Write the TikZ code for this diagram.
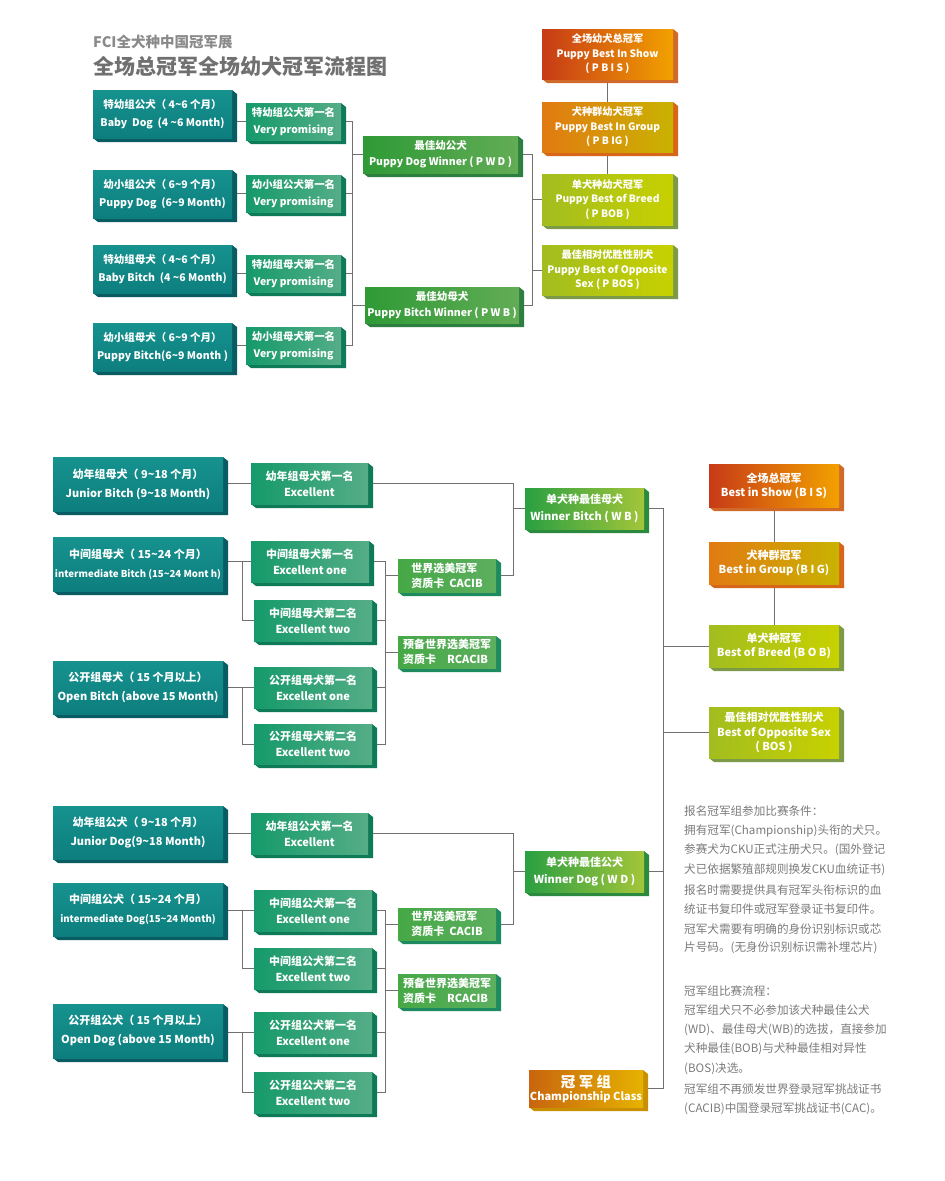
\documentclass[tikz,border=0pt]{standalone}
\usepackage{fontspec}
\setmainfont{Noto Sans CJK SC}
\usetikzlibrary{backgrounds,calc}
\definecolor{tealA}{HTML}{16928F}
\definecolor{tealB}{HTML}{0D7E7E}
\definecolor{tealS}{HTML}{0A5C63}
\definecolor{firstA}{HTML}{159A6B}
\definecolor{firstB}{HTML}{55AD86}
\definecolor{firstS}{HTML}{0F7A58}
\definecolor{winA}{HTML}{2F9A36}
\definecolor{winB}{HTML}{62AC55}
\definecolor{winS}{HTML}{2C7F3E}
\definecolor{wbA}{HTML}{2A9F42}
\definecolor{wbB}{HTML}{A3C53A}
\definecolor{wbS}{HTML}{2B8A3E}
\definecolor{cacA}{HTML}{46A846}
\definecolor{cacB}{HTML}{5CAF5E}
\definecolor{cacS}{HTML}{1E8A5F}
\definecolor{redA}{HTML}{C73A17}
\definecolor{redB}{HTML}{F2A100}
\definecolor{redS}{HTML}{D06A2A}
\definecolor{orgA}{HTML}{E27A12}
\definecolor{orgB}{HTML}{C9B300}
\definecolor{orgS}{HTML}{D8661A}
\definecolor{limA}{HTML}{A2BD1F}
\definecolor{limB}{HTML}{C8D100}
\definecolor{limS}{HTML}{7C9A48}
\definecolor{chA}{HTML}{C8650E}
\definecolor{chB}{HTML}{E6B200}
\definecolor{chS}{HTML}{C89000}
\definecolor{lineg}{HTML}{707070}
\definecolor{headg}{HTML}{8A8A8A}
\definecolor{titleg}{HTML}{707070}
\definecolor{noteg}{HTML}{7B7B7B}
\newcommand\tld{\textasciitilde}
\newcommand\mybox[7]{%
  \fill[#6side] (#2,#3) -- ++(#4,0) -- ++(5,4) -- ++(0,#5) -- ++(-#4,0) -- ++(-5,-4) -- cycle;
  \node[#6face, anchor=north west, minimum width=#4pt, minimum height=#5pt] (#1) at (#2,#3) {#7};
}
\tikzset{
  base/.style={inner sep=0pt, outer sep=0pt, align=center, text=white},
  tealface/.style={base, top color=tealA, bottom color=tealB, font=\bfseries\fontsize{10.5}{18}\selectfont},
  tealside/.style={fill=tealS},
  mtealface/.style={base, top color=tealA, bottom color=tealB, font=\bfseries\fontsize{11}{19}\selectfont},
  mtealside/.style={fill=tealS},
  firstface/.style={base, left color=firstA, right color=firstB, font=\bfseries\fontsize{10.4}{17}\selectfont},
  firstside/.style={fill=firstS},
  mfirstface/.style={base, left color=firstA, right color=firstB, font=\bfseries\fontsize{11}{16}\selectfont},
  mfirstside/.style={fill=firstS},
  winface/.style={base, left color=winA, right color=winB, font=\bfseries\fontsize{10.5}{16}\selectfont},
  winside/.style={fill=winS},
  wbface/.style={base, left color=wbA, right color=wbB, font=\bfseries\fontsize{11}{17}\selectfont},
  wbside/.style={fill=wbS},
  cacface/.style={base, left color=cacA, right color=cacB, align=left, font=\bfseries\fontsize{11}{15}\selectfont},
  cacside/.style={fill=cacS},
  redface/.style={base, left color=redA, right color=redB, font=\bfseries\fontsize{10.2}{14.5}\selectfont},
  redside/.style={fill=redS},
  orgface/.style={base, left color=orgA, right color=orgB, font=\bfseries\fontsize{10.2}{14.5}\selectfont},
  orgside/.style={fill=orgS},
  limface/.style={base, left color=limA, right color=limB, font=\bfseries\fontsize{10.2}{14.5}\selectfont},
  limside/.style={fill=limS},
  mredface/.style={base, left color=redA, right color=redB, font=\bfseries\fontsize{11}{14}\selectfont},
  mredside/.style={fill=redS},
  morgface/.style={base, left color=orgA, right color=orgB, font=\bfseries\fontsize{11}{14}\selectfont},
  morgside/.style={fill=orgS},
  mlimface/.style={base, left color=limA, right color=limB, font=\bfseries\fontsize{11}{14.5}\selectfont},
  mlimside/.style={fill=limS},
  chface/.style={base, left color=chA, right color=chB, font=\bfseries\fontsize{11}{13}\selectfont},
  chside/.style={fill=chS},
  conn/.style={draw=lineg, line width=1pt},
  note/.style={anchor=west, inner sep=0pt, text=noteg, font=\fontsize{11.6}{12}\selectfont},
}
\begin{document}
\begin{tikzpicture}[x=1pt,y=-1pt]
\useasboundingbox (0,0) rectangle (945,1181);

\node[anchor=west, inner sep=0pt, text=headg, font=\bfseries\fontsize{14.5}{15}\selectfont] (head) at (93,42) {FCI全犬种中国冠军展};
\node[anchor=west, inner sep=0pt, text=titleg, font=\bfseries\fontsize{21}{21}\selectfont] (title) at (93,67) {全场总冠军全场幼犬冠军流程图};

% ---------- top section ----------
\mybox{ba}{93}{90}{139}{48}{teal}{特幼组公犬（ 4\tld6 个月）\\Baby\ \ Dog\ \ (4 \tld6 Month)}
\mybox{bb}{93}{170}{139}{48}{teal}{幼小组公犬（ 6\tld9 个月）\\Puppy Dog\ \ (6\tld9 Month)}
\mybox{bc}{93}{245}{139}{48}{teal}{特幼组母犬（ 4\tld6 个月）\\Baby Bitch\ \ (4 \tld6 Month)}
\mybox{bd}{93}{323}{139}{48}{teal}{幼小组母犬（ 6\tld9 个月）\\Puppy Bitch(6\tld9 Month )}
\mybox{fa}{246}{103}{95}{37}{first}{特幼组公犬第一名\\Very promising}
\mybox{fb}{246}{175}{95}{37}{first}{幼小组公犬第一名\\Very promising}
\mybox{fc}{246}{255}{95}{37}{first}{特幼组母犬第一名\\Very promising}
\mybox{fd}{246}{327}{95}{37}{first}{幼小组母犬第一名\\Very promising}
\mybox{pwd}{363}{136}{155}{37}{win}{最佳幼公犬\\Puppy Dog Winner ( P W D )}
\mybox{pwb}{365}{287}{154}{36}{win}{最佳幼母犬\\Puppy Bitch Winner ( P W B )}
\mybox{pbis}{542}{29}{131}{50}{red}{全场幼犬总冠军\\Puppy Best In Show\\( P B I S )}
\mybox{pbig}{542}{102}{131}{50}{org}{犬种群幼犬冠军\\Puppy Best In Group\\( P B IG )}
\mybox{pbob}{542}{174}{131}{51}{lim}{单犬种幼犬冠军\\Puppy Best of Breed\\( P BOB )}
\mybox{pbos}{542}{245}{131}{50}{lim}{最佳相对优胜性别犬\\Puppy Best of Opposite\\Sex ( P BOS )}

% ---------- middle section ----------
\mybox{jb}{53}{457}{170}{54}{mteal}{幼年组母犬（ 9\tld18 个月）\\Junior Bitch (9\tld18 Month)}
\mybox{ib}{53}{537}{170}{54}{mteal}{中间组母犬（ 15\tld24 个月）\\{\fontsize{9.6}{19}\selectfont intermediate Bitch (15\tld24 Mont h)}}
\mybox{ob}{53}{661}{170}{53}{mteal}{公开组母犬（ 15 个月以上）\\Open Bitch (above 15 Month)}
\mybox{jb1}{251}{463}{117}{41}{mfirst}{幼年组母犬第一名\\Excellent}
\mybox{ib1}{251}{541}{118}{41}{mfirst}{中间组母犬第一名\\Excellent one}
\mybox{ib2}{254}{600}{118}{41}{mfirst}{中间组母犬第二名\\Excellent two}
\mybox{ob1}{254}{667}{118}{41}{mfirst}{公开组母犬第一名\\Excellent one}
\mybox{ob2}{254}{724}{118}{40}{mfirst}{公开组母犬第二名\\Excellent two}
\mybox{cacib}{398}{559}{98}{33}{cac}{世界选美冠军\\资质卡\ \ CACIB}
\mybox{rcacib}{398}{636}{98}{32}{cac}{预备世界选美冠军\\资质卡\quad RCACIB}
\mybox{wb}{525}{488}{119}{41}{wb}{单犬种最佳母犬\\Winner Bitch ( W B )}
\mybox{bis}{709}{464}{130}{43}{mred}{全场总冠军\\Best in Show (B I S)}
\mybox{big}{709}{542}{130}{42}{morg}{犬种群冠军\\Best in Group (B I G)}
\mybox{bob}{709}{625}{130}{42}{mlim}{单犬种冠军\\Best of Breed (B O B)}
\mybox{bos}{709}{707}{130}{51}{mlim}{最佳相对优胜性别犬\\Best of Opposite Sex\\( BOS )}

% ---------- bottom section ----------
\mybox{jd}{53}{806}{170}{53}{mteal}{幼年组公犬（ 9\tld18 个月）\\Junior Dog(9\tld18 Month)}
\mybox{id}{53}{883}{170}{53}{mteal}{中间组公犬（ 15\tld24 个月）\\{\fontsize{9.6}{19}\selectfont intermediate Dog(15\tld24 Month)}}
\mybox{od}{53}{1004}{170}{54}{mteal}{公开组公犬（ 15 个月以上）\\Open Dog (above 15 Month)}
\mybox{jd1}{251}{813}{117}{41}{mfirst}{幼年组公犬第一名\\Excellent}
\mybox{id1}{254}{890}{118}{41}{mfirst}{中间组公犬第一名\\Excellent one}
\mybox{id2}{254}{948}{118}{41}{mfirst}{中间组公犬第二名\\Excellent two}
\mybox{od1}{254}{1012}{118}{41}{mfirst}{公开组公犬第一名\\Excellent one}
\mybox{od2}{254}{1072}{118}{41}{mfirst}{公开组公犬第二名\\Excellent two}
\mybox{cacibd}{398}{908}{98}{32}{cac}{世界选美冠军\\资质卡\ \ CACIB}
\mybox{rcacibd}{398}{974}{98}{33}{cac}{预备世界选美冠军\\资质卡\quad RCACIB}
\mybox{wd}{525}{851}{119}{41}{wb}{单犬种最佳公犬\\Winner Dog ( W D )}
\mybox{champ}{529}{1070}{114}{37}{ch}{{\fontsize{14.5}{15}\selectfont 冠\ 军\ 组}\\Championship Class}

% ---------- notes ----------
\node[note] (n1) at (684,811) {报名冠军组参加比赛条件：};
\node[note] (n2) at (684,831) {拥有冠军(Championship)头衔的犬只。};
\node[note] (n3) at (684,850) {参赛犬为CKU正式注册犬只。(国外登记};
\node[note] (n4) at (684,870) {犬已依据繁殖部规则换发CKU血统证书)};
\node[note] (n5) at (684,890) {报名时需要提供具有冠军头衔标识的血};
\node[note] (n6) at (684,909) {统证书复印件或冠军登录证书复印件。};
\node[note] (n7) at (684,929) {冠军犬需要有明确的身份识别标识或芯};
\node[note] (n8) at (684,948) {片号码。(无身份识别标识需补埋芯片)};
\node[note] (m1) at (684,991) {冠军组比赛流程：};
\node[note] (m2) at (684,1010) {冠军组犬只不必参加该犬种最佳公犬};
\node[note] (m3) at (684,1030) {(WD)、最佳母犬(WB)的选拔，直接参加};
\node[note] (m4) at (684,1049) {犬种最佳(BOB)与犬种最佳相对异性};
\node[note] (m5) at (684,1069) {(BOS)决选。};
\node[note] (m6) at (684,1089) {冠军组不再颁发世界登录冠军挑战证书};
\node[note] (m7) at (684,1109) {(CACIB)中国登录冠军挑战证书(CAC)。};

% ---------- connectors ----------
\begin{scope}[on background layer]
\fill[white] (0,0) rectangle (945,1181);
\coordinate (xA) at (352,0);
\coordinate (xB) at (532,0);
\coordinate (xD) at (242,0);
\coordinate (xE) at (385,0);
\coordinate (xC) at (513,0);
\coordinate (xF) at (663,0);
% top
\draw[conn] (ba.east |- fa.west) -- (fa.west);
\draw[conn] (bb.east |- fb.west) -- (fb.west);
\draw[conn] (bc.east |- fc.west) -- (fc.west);
\draw[conn] (bd.east |- fd.west) -- (fd.west);
\draw[conn] (fa.east) -- (xA |- fa.east) -- (xA |- fd.east) -- (fd.east);
\draw[conn] (fb.east) -- (xA |- fb.east);
\draw[conn] (fc.east) -- (xA |- fc.east);
\draw[conn] (xA |- pwd.west) -- (pwd.west);
\draw[conn] (xA |- pwb.west) -- (pwb.west);
\draw[conn] (pwd.east) -- (xB |- pwd.east) -- (xB |- pwb.east) -- (pwb.east);
\draw[conn] (xB |- pbob.west) -- (pbob.west);
\draw[conn] (xB |- pbos.west) -- (pbos.west);
\draw[conn] (pbis.south) -- (pbig.north);
\draw[conn] (pbig.south) -- (pbob.north);
% middle
\draw[conn] (jb.east |- jb1.west) -- (jb1.west);
\draw[conn] (ib.east |- ib1.west) -- (ib1.west);
\draw[conn] (xD |- ib1.west) -- (xD |- ib2.west) -- (ib2.west);
\draw[conn] (ob.east |- ob1.west) -- (ob1.west);
\draw[conn] (xD |- ob1.west) -- (xD |- ob2.west) -- (ob2.west);
\draw[conn] (ib1.east) -- (xE |- ib1.east) -- (xE |- ob2.east) -- (ob2.east);
\draw[conn] (ib2.east) -- (xE |- ib2.east);
\draw[conn] (ob1.east) -- (xE |- ob1.east);
\draw[conn] (xE |- cacib.west) -- (cacib.west);
\draw[conn] (xE |- rcacib.west) -- (rcacib.west);
\draw[conn] (jb1.east) -- (xC |- jb1.east) -- (xC |- cacib.east) -- (cacib.east);
\draw[conn] (xC |- wb.west) -- (wb.west);
\draw[conn] (wb.east) -- (xF |- wb.east) -- (xF |- champ.east) -- (champ.east);
\draw[conn] (xF |- bob.west) -- (bob.west);
\draw[conn] (xF |- bos.west) -- (bos.west);
\draw[conn] (bis.south) -- (big.north);
\draw[conn] (big.south) -- (bob.north);
% bottom
\draw[conn] (jd.east |- jd1.west) -- (jd1.west);
\draw[conn] (id.east |- id1.west) -- (id1.west);
\draw[conn] (xD |- id1.west) -- (xD |- id2.west) -- (id2.west);
\draw[conn] (od.east |- od1.west) -- (od1.west);
\draw[conn] (xD |- od1.west) -- (xD |- od2.west) -- (od2.west);
\draw[conn] (id1.east) -- (xE |- id1.east) -- (xE |- od2.east) -- (od2.east);
\draw[conn] (id2.east) -- (xE |- id2.east);
\draw[conn] (od1.east) -- (xE |- od1.east);
\draw[conn] (xE |- cacibd.west) -- (cacibd.west);
\draw[conn] (xE |- rcacibd.west) -- (rcacibd.west);
\draw[conn] (jd1.east) -- (xC |- jd1.east) -- (xC |- cacibd.east) -- (cacibd.east);
\draw[conn] (xC |- wd.west) -- (wd.west);
\draw[conn] (wd.east) -- (xF |- wd.east);
\end{scope}
\end{tikzpicture}
\end{document}
